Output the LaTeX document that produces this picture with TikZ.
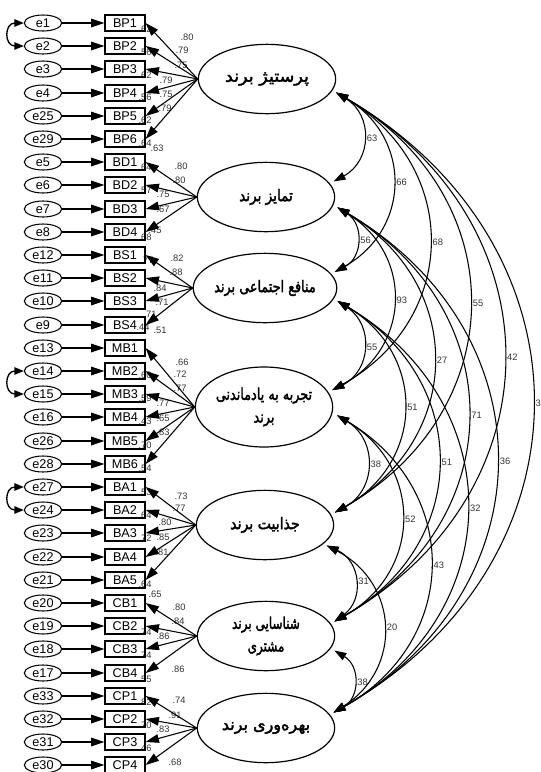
\documentclass[tikz,border=0pt]{standalone}
\usepackage{fontspec}
\usepackage{graphicx}
\setmainfont{Liberation Sans}
\newfontfamily\farsi[Script=Arabic,FakeBold=2.5]{DejaVu Sans}
\TeXXeTstate=1
\usetikzlibrary{shapes.geometric,arrows.meta}
\begin{document}
\begin{tikzpicture}[x=0.75pt, y=-0.75pt,
    latent/.style={draw, line width=0.9pt, ellipse, minimum width=103pt, minimum height=52pt, inner sep=0pt, align=center, font=\farsi\fontsize{12}{17}\selectfont},
    obs/.style={draw, line width=0.9pt, rectangle, minimum width=30pt, minimum height=12pt, inner sep=0pt, font=\fontsize{9.5}{10}\selectfont},
    err/.style={draw, line width=0.8pt, ellipse, minimum width=28pt, minimum height=12pt, inner sep=0pt, font=\fontsize{9.5}{10}\selectfont},
    lbl/.style={inner sep=0.5pt, text=black!80, font=\fontsize{7}{8}\selectfont},
    arr/.style={line width=0.8pt, -{Triangle[length=10pt,width=6.5pt]}},
    cov/.style={line width=0.8pt, {Triangle[length=9pt,width=6pt]}-{Triangle[length=9pt,width=6pt]}, bend left=60, looseness=1.25},
    ecov/.style={line width=1pt, {Triangle[length=7pt,width=5.5pt]}-{Triangle[length=7pt,width=5.5pt]}, out=180, in=180, looseness=2.2}]
    \useasboundingbox (0,0) rectangle (540,772);

    %weights and squared correlations next to the boxes
    \node[lbl] at (145,29) {.62}; \node[lbl] at (187,37) {.80}; \node[lbl] at (182,50) {.79};
    \node[lbl] at (145,52) {.56}; \node[lbl] at (181,65) {.75}; \node[lbl] at (145,75) {.62};
    \node[lbl] at (166,80) {.79}; \node[lbl] at (166,94) {.75}; \node[lbl] at (145,97) {.56};
    \node[lbl] at (165,108) {.79}; \node[lbl] at (145,120) {.62};
    \node[lbl] at (145,143) {.64}; \node[lbl] at (157,148) {.63};
    \node[lbl] at (181,166) {.80}; \node[lbl] at (145,167) {.64}; \node[lbl] at (179,180) {.80};
    \node[lbl] at (145,190) {.57}; \node[lbl] at (163,194) {.75}; \node[lbl] at (163,209) {.67};
    \node[lbl] at (155,230) {.45}; \node[lbl] at (145,237) {.68};
    \node[lbl] at (177,258) {.82}; \node[lbl] at (147,260) {.77}; \node[lbl] at (176,272) {.88};
    \node[lbl] at (160,288) {.84}; \node[lbl] at (162,302) {.71}; \node[lbl] at (150,314) {.71};
    \node[lbl] at (143,327) {.44}; \node[lbl] at (160,330) {.51};
    \node[lbl] at (182,362) {.66}; \node[lbl] at (180,374) {.72}; \node[lbl] at (145,375) {.60};
    \node[lbl] at (180,388) {.77}; \node[lbl] at (145,398) {.59}; \node[lbl] at (163,403) {.77};
    \node[lbl] at (163,418) {.65}; \node[lbl] at (145,421) {.43}; \node[lbl] at (163,432) {.83};
    \node[lbl] at (145,445) {.70}; \node[lbl] at (145,468) {.54};
    \node[lbl] at (145,492) {.53}; \node[lbl] at (181,496) {.73}; \node[lbl] at (179,508) {.77};
    \node[lbl] at (145,515) {.64}; \node[lbl] at (165,522) {.80}; \node[lbl] at (145,538) {.72};
    \node[lbl] at (163,537) {.85}; \node[lbl] at (162,552) {.81};
    \node[lbl] at (145,584) {.64}; \node[lbl] at (155,594) {.65}; \node[lbl] at (179,607) {.80};
    \node[lbl] at (178,621) {.84}; \node[lbl] at (145,632) {.74}; \node[lbl] at (163,636) {.86};
    \node[lbl] at (145,655) {.74}; \node[lbl] at (178,669) {.86}; \node[lbl] at (145,679) {.55};
    \node[lbl] at (179,700) {.74}; \node[lbl] at (145,702) {.82}; \node[lbl] at (175,715) {.91};
    \node[lbl] at (145,725) {.70}; \node[lbl] at (163,729) {.83}; \node[lbl] at (145,748) {.46};
    \node[lbl] at (175,762) {.68};

    %latent variables
    \node[latent] (F1) at (267,79) {\scalebox{1.1}[1]{\beginR پرستیژ برند\endR}};
    \node[latent] (F2) at (266,197) {\scalebox{0.85}[1]{\beginR تمایز برند\endR}};
    \node[latent] (F3) at (265,288) {\scalebox{0.8}[1]{\beginR منافع اجتماعی برند\endR}};
    \node[latent, minimum height=60pt] (F4) at (264,407) {\scalebox{0.8}[1]{\beginR تجربه به یادماندنی\endR}\\\scalebox{0.8}[1]{\beginR برند\endR}};
    \node[latent] (F5) at (265,525) {\scalebox{0.88}[1]{\beginR جذابیت برند\endR}};
    \node[latent] (F6) at (266,636) {\scalebox{0.75}[1]{\beginR شناسایی برند\endR}\\\scalebox{0.75}[1]{\beginR مشتری\endR}};
    \node[latent] (F7) at (266,728) {\beginR بهره‌وری برند\endR};

    %BP
    \node[err] (e1) at (43,23) {e1}; \node[obs] (BP1) at (125,23) {BP1}; \draw[arr] (e1) -- (BP1); \draw[arr] (F1.west) -- (BP1.east);
    \node[err] (e2) at (43,46) {e2}; \node[obs] (BP2) at (125,46) {BP2}; \draw[arr] (e2) -- (BP2); \draw[arr] (F1.west) -- (BP2.east);
    \node[err] (e3) at (43,69) {e3}; \node[obs] (BP3) at (125,69) {BP3}; \draw[arr] (e3) -- (BP3); \draw[arr] (F1.west) -- (BP3.east);
    \node[err] (e4) at (43,93) {e4}; \node[obs] (BP4) at (125,93) {BP4}; \draw[arr] (e4) -- (BP4); \draw[arr] (F1.west) -- (BP4.east);
    \node[err] (e25) at (43,116) {e25}; \node[obs] (BP5) at (125,116) {BP5}; \draw[arr] (e25) -- (BP5); \draw[arr] (F1.west) -- (BP5.east);
    \node[err] (e29) at (43,139) {e29}; \node[obs] (BP6) at (125,139) {BP6}; \draw[arr] (e29) -- (BP6); \draw[arr] (F1.west) -- (BP6.east);

    %BD
    \node[err] (e5) at (43,162) {e5}; \node[obs] (BD1) at (125,162) {BD1}; \draw[arr] (e5) -- (BD1); \draw[arr] (F2.west) -- (BD1.east);
    \node[err] (e6) at (43,185) {e6}; \node[obs] (BD2) at (125,185) {BD2}; \draw[arr] (e6) -- (BD2); \draw[arr] (F2.west) -- (BD2.east);
    \node[err] (e7) at (43,209) {e7}; \node[obs] (BD3) at (125,209) {BD3}; \draw[arr] (e7) -- (BD3); \draw[arr] (F2.west) -- (BD3.east);
    \node[err] (e8) at (43,232) {e8}; \node[obs] (BD4) at (125,232) {BD4}; \draw[arr] (e8) -- (BD4); \draw[arr] (F2.west) -- (BD4.east);

    %BS
    \node[err] (e12) at (43,255) {e12}; \node[obs] (BS1) at (125,255) {BS1}; \draw[arr] (e12) -- (BS1); \draw[arr] (F3.west) -- (BS1.east);
    \node[err] (e11) at (43,278) {e11}; \node[obs] (BS2) at (125,278) {BS2}; \draw[arr] (e11) -- (BS2); \draw[arr] (F3.west) -- (BS2.east);
    \node[err] (e10) at (43,301) {e10}; \node[obs] (BS3) at (125,301) {BS3}; \draw[arr] (e10) -- (BS3); \draw[arr] (F3.west) -- (BS3.east);
    \node[err] (e9) at (43,325) {e9}; \node[obs] (BS4) at (125,325) {BS4}; \draw[arr] (e9) -- (BS4); \draw[arr] (F3.west) -- (BS4.east);

    %MB
    \node[err] (e13) at (43,348) {e13}; \node[obs] (MB1) at (125,348) {MB1}; \draw[arr] (e13) -- (MB1); \draw[arr] (F4.west) -- (MB1.east);
    \node[err] (e14) at (43,371) {e14}; \node[obs] (MB2) at (125,371) {MB2}; \draw[arr] (e14) -- (MB2); \draw[arr] (F4.west) -- (MB2.east);
    \node[err] (e15) at (43,394) {e15}; \node[obs] (MB3) at (125,394) {MB3}; \draw[arr] (e15) -- (MB3); \draw[arr] (F4.west) -- (MB3.east);
    \node[err] (e16) at (43,417) {e16}; \node[obs] (MB4) at (125,417) {MB4}; \draw[arr] (e16) -- (MB4); \draw[arr] (F4.west) -- (MB4.east);
    \node[err] (e26) at (43,441) {e26}; \node[obs] (MB5) at (125,441) {MB5}; \draw[arr] (e26) -- (MB5); \draw[arr] (F4.west) -- (MB5.east);
    \node[err] (e28) at (43,464) {e28}; \node[obs] (MB6) at (125,464) {MB6}; \draw[arr] (e28) -- (MB6); \draw[arr] (F4.west) -- (MB6.east);

    %BA
    \node[err] (e27) at (43,487) {e27}; \node[obs] (BA1) at (125,487) {BA1}; \draw[arr] (e27) -- (BA1); \draw[arr] (F5.west) -- (BA1.east);
    \node[err] (e24) at (43,510) {e24}; \node[obs] (BA2) at (125,510) {BA2}; \draw[arr] (e24) -- (BA2); \draw[arr] (F5.west) -- (BA2.east);
    \node[err] (e23) at (43,533) {e23}; \node[obs] (BA3) at (125,533) {BA3}; \draw[arr] (e23) -- (BA3); \draw[arr] (F5.west) -- (BA3.east);
    \node[err] (e22) at (43,557) {e22}; \node[obs] (BA4) at (125,557) {BA4}; \draw[arr] (e22) -- (BA4); \draw[arr] (F5.west) -- (BA4.east);
    \node[err] (e21) at (43,580) {e21}; \node[obs] (BA5) at (125,580) {BA5}; \draw[arr] (e21) -- (BA5); \draw[arr] (F5.west) -- (BA5.east);

    %CB
    \node[err] (e20) at (43,603) {e20}; \node[obs] (CB1) at (125,603) {CB1}; \draw[arr] (e20) -- (CB1); \draw[arr] (F6.west) -- (CB1.east);
    \node[err] (e19) at (43,626) {e19}; \node[obs] (CB2) at (125,626) {CB2}; \draw[arr] (e19) -- (CB2); \draw[arr] (F6.west) -- (CB2.east);
    \node[err] (e18) at (43,649) {e18}; \node[obs] (CB3) at (125,649) {CB3}; \draw[arr] (e18) -- (CB3); \draw[arr] (F6.west) -- (CB3.east);
    \node[err] (e17) at (43,673) {e17}; \node[obs] (CB4) at (125,673) {CB4}; \draw[arr] (e17) -- (CB4); \draw[arr] (F6.west) -- (CB4.east);

    %CP
    \node[err] (e33) at (43,696) {e33}; \node[obs] (CP1) at (125,696) {CP1}; \draw[arr] (e33) -- (CP1); \draw[arr] (F7.west) -- (CP1.east);
    \node[err] (e32) at (43,719) {e32}; \node[obs] (CP2) at (125,719) {CP2}; \draw[arr] (e32) -- (CP2); \draw[arr] (F7.west) -- (CP2.east);
    \node[err] (e31) at (43,742) {e31}; \node[obs] (CP3) at (125,742) {CP3}; \draw[arr] (e31) -- (CP3); \draw[arr] (F7.west) -- (CP3.east);
    \node[err] (e30) at (43,765) {e30}; \node[obs] (CP4) at (125,765) {CP4}; \draw[arr] (e30) -- (CP4); \draw[arr] (F7.west) -- (CP4.east);

    %error covariances
    \draw[ecov] (e1.west) to (e2.west);
    \draw[ecov] (e14.west) to (e15.west);
    \draw[ecov] (e27.west) to (e24.west);

    %factor covariances
    \draw[cov] ([xshift=4pt]F1.-12) to node[lbl, right, pos=.5] {.63} ([xshift=4pt]F2.14);
    \draw[cov] ([xshift=4pt]F1.-12) to node[lbl, right, pos=.5] {.66} ([xshift=4pt]F3.14);
    \draw[cov] ([xshift=4pt]F1.-12) to node[lbl, right, pos=.5] {.68} ([xshift=4pt]F4.15);
    \draw[cov] ([xshift=4pt]F1.-12) to node[lbl, right, pos=.5] {.55} ([xshift=4pt]F5.11);
    \draw[cov] ([xshift=4pt]F1.-12) to node[lbl, right, pos=.5] {.42} ([xshift=4pt]F6.13);
    \draw[cov] ([xshift=4pt]F1.-12) to node[lbl, right, pos=.5] {.30} ([xshift=4pt]F7.14);
    \draw[cov] ([xshift=4pt]F2.-9) to node[lbl, right, pos=.5] {.56} ([xshift=4pt]F3.14);
    \draw[cov] ([xshift=4pt]F2.-9) to node[lbl, right, pos=.5] {.93} ([xshift=4pt]F4.15);
    \draw[cov] ([xshift=4pt]F2.-9) to node[lbl, right, pos=.5] {.27} ([xshift=4pt]F5.11);
    \draw[cov] ([xshift=4pt]F2.-9) to node[lbl, right, pos=.5] {.71} ([xshift=4pt]F6.13);
    \draw[cov] ([xshift=4pt]F2.-9) to node[lbl, right, pos=.5] {.36} ([xshift=4pt]F7.14);
    \draw[cov] ([xshift=4pt]F3.-11) to node[lbl, right, pos=.5] {.55} ([xshift=4pt]F4.15);
    \draw[cov] ([xshift=4pt]F3.-11) to node[lbl, right, pos=.5] {.51} ([xshift=4pt]F5.11);
    \draw[cov] ([xshift=4pt]F3.-11) to node[lbl, right, pos=.5] {.51} ([xshift=4pt]F6.13);
    \draw[cov] ([xshift=4pt]F3.-11) to node[lbl, right, pos=.5] {.32} ([xshift=4pt]F7.14);
    \draw[cov] ([xshift=4pt]F4.-7) to node[lbl, right, pos=.5] {.38} ([xshift=4pt]F5.11);
    \draw[cov] ([xshift=4pt]F4.-7) to node[lbl, right, pos=.5] {.52} ([xshift=4pt]F6.13);
    \draw[cov] ([xshift=4pt]F4.-7) to node[lbl, right, pos=.5] {.43} ([xshift=4pt]F7.14);
    \draw[cov] ([xshift=4pt]F5.-20) to node[lbl, right, pos=.5] {.31} ([xshift=4pt]F6.13);
    \draw[cov] ([xshift=4pt]F5.-20) to node[lbl, right, pos=.5] {.20} ([xshift=4pt]F7.14);
    \draw[cov] ([xshift=4pt]F6.-13) to node[lbl, right, pos=.5] {.38} ([xshift=4pt]F7.14);
\end{tikzpicture}
\end{document}
